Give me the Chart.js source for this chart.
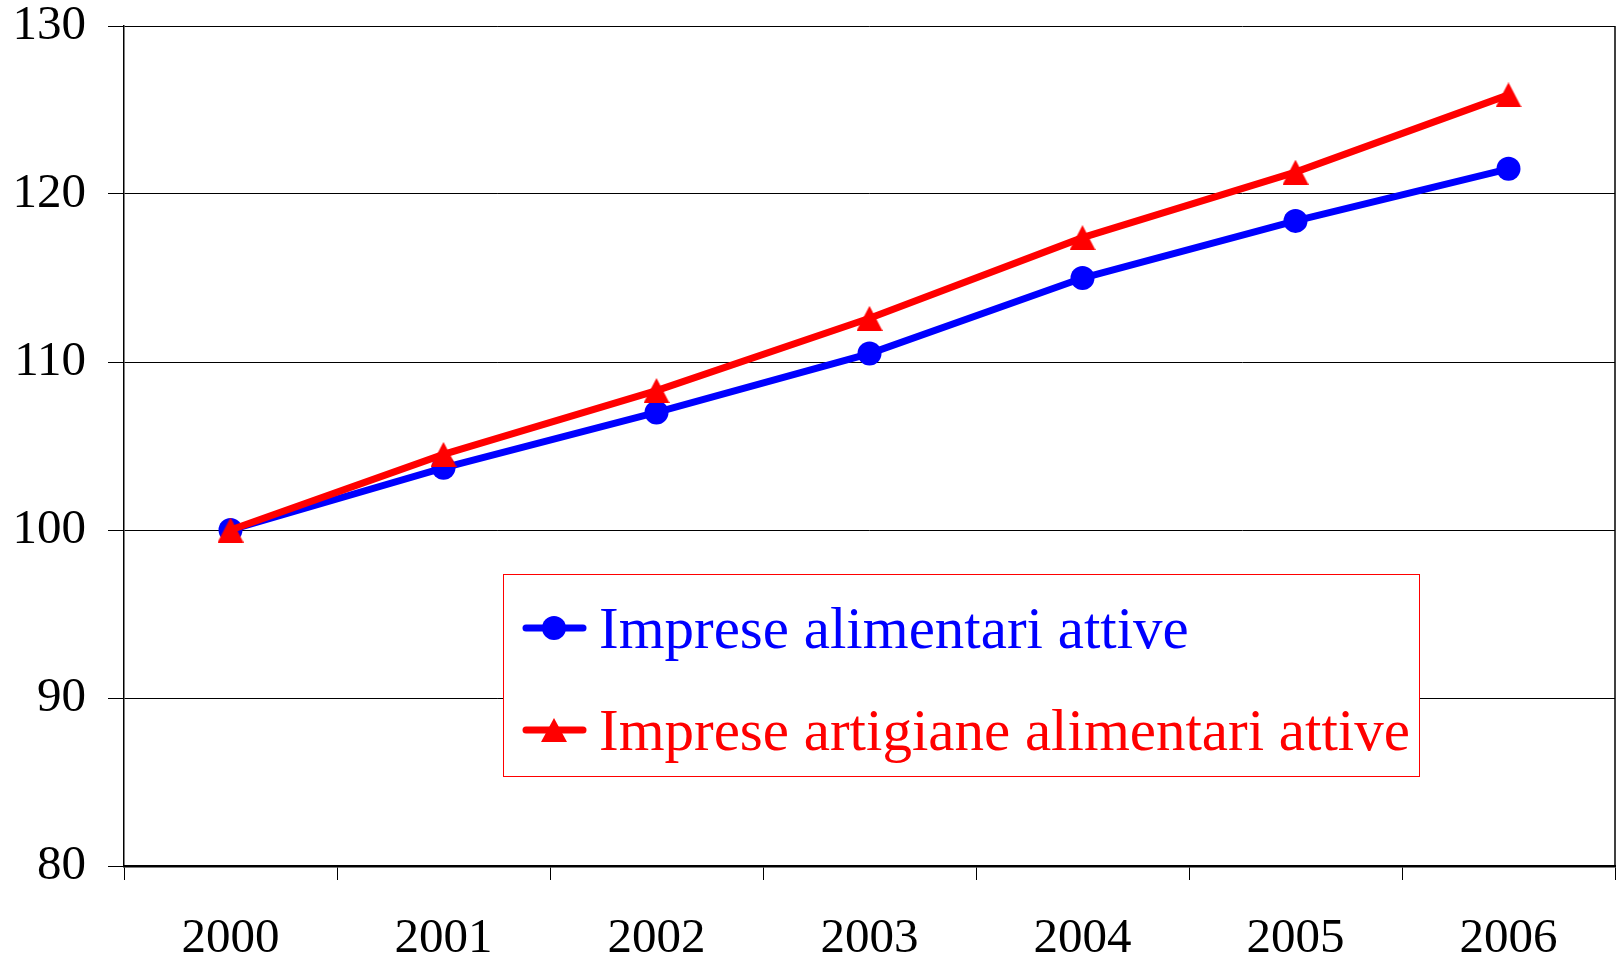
<!DOCTYPE html>
<html>
<head>
<meta charset="utf-8">
<script src="https://cdn.jsdelivr.net/npm/chart.js@4/dist/chart.umd.min.js"></script>
<style>
  html, body { margin: 0; padding: 0; background: #fff; }
  #wrap { position: relative; width: 1621px; height: 959px; }
  #legend {
    position: absolute; left: 503px; top: 574px; width: 917px; height: 203px;
    border: 1px solid #ff0000; background: #fff; box-sizing: border-box;
    font-family: "Liberation Serif", "Times New Roman", serif; font-size: 59px;
  }
  .item { position: absolute; left: 18px; height: 60px; display: flex; align-items: center; white-space: nowrap; }
  .item svg { margin-right: 11px; }
</style>
</head>
<body>
<div id="wrap">
  <canvas id="c" width="1621" height="959"></canvas>
  <div id="legend"></div>
</div>
<script>
const years = ["2000", "2001", "2002", "2003", "2004", "2005", "2006"];
const impreseAlimentari = [100, 103.7, 107.0, 110.5, 115.0, 118.4, 121.5];
const impreseArtigiane = [100, 104.5, 108.3, 112.6, 117.4, 121.3, 125.9];
const seriesLabels = ["Imprese alimentari attive", "Imprese artigiane alimentari attive"];
const yTicks = [80, 90, 100, 110, 120, 130];

const serif = '"Liberation Serif", "Times New Roman", serif';

// Excel-like triangle marker (centred on its bounding box)
function triangleMarker(color, w, h) {
  const cv = document.createElement('canvas');
  cv.width = w; cv.height = h;
  const c = cv.getContext('2d');
  c.fillStyle = color;
  c.beginPath();
  c.moveTo(w / 2, 0);
  c.lineTo(w, h);
  c.lineTo(0, h);
  c.closePath();
  c.fill();
  return cv;
}

const framePlugin = {
  id: 'frame',
  beforeDatasetsDraw(chart) {
    const a = chart.chartArea, ctx = chart.ctx;
    ctx.save();
    ctx.strokeStyle = '#000';
    ctx.lineWidth = 1.5;
    ctx.beginPath();
    ctx.moveTo(a.right, a.top);
    ctx.lineTo(a.right, a.bottom);
    ctx.stroke();
    ctx.restore();
  }
};

function noPad(scale) {
  scale.paddingTop = 0; scale.paddingBottom = 0;
  scale.paddingLeft = 0; scale.paddingRight = 0;
}

const chart = new Chart(document.getElementById('c'), {
  type: 'line',
  data: {
    labels: years,
    datasets: [
      {
        label: seriesLabels[0],
        data: impreseAlimentari,
        order: 1,
        borderColor: '#0000ff',
        backgroundColor: '#0000ff',
        borderWidth: 7,
        pointStyle: 'circle',
        pointRadius: 12,
        pointBorderWidth: 0,
        tension: 0
      },
      {
        label: seriesLabels[1],
        data: impreseArtigiane,
        order: 0,
        borderColor: '#ff0000',
        backgroundColor: '#ff0000',
        borderWidth: 7,
        pointStyle: triangleMarker('#ff0000', 26, 25),
        pointRadius: 12,
        pointBorderWidth: 0,
        tension: 0
      }
    ]
  },
  options: {
    responsive: false,
    animation: false,
    events: [],
    layout: { autoPadding: false, padding: { left: 0, right: 6, top: 26, bottom: 0 } },
    plugins: { legend: { display: false }, tooltip: { enabled: false } },
    scales: {
      x: {
        type: 'category',
        offset: true,
        grid: {
          offset: true,
          drawOnChartArea: false,
          drawTicks: true,
          tickLength: 14,
          color: '#000',
          lineWidth: 1
        },
        border: { display: true, color: '#000', width: 2.5 },
        ticks: {
          color: '#000',
          font: { family: serif, size: 49 },
          padding: 30,
          maxRotation: 0
        },
        afterFit(scale) { scale.height = 93; noPad(scale); }
      },
      y: {
        min: 80,
        max: 130,
        afterBuildTicks(scale) { scale.ticks = yTicks.map(v => ({ value: v })); },
        grid: {
          color: '#000',
          lineWidth: 1,
          drawTicks: true,
          tickLength: 16,
          tickColor: '#000'
        },
        border: { display: true, color: '#000', width: 1.5 },
        ticks: {
          color: '#000',
          font: { family: serif, size: 49 },
          padding: 22
        },
        afterFit(scale) { scale.width = 124; noPad(scale); }
      }
    }
  },
  plugins: [framePlugin]
});

// HTML legend built from dataset info
const legend = document.getElementById('legend');
const tops = [23, 125];
chart.data.datasets.forEach((ds, i) => {
  const div = document.createElement('div');
  div.className = 'item';
  div.style.top = tops[i] + 'px';
  div.style.color = ds.borderColor;
  const marker = ds.pointStyle === 'circle'
    ? `<circle cx="32" cy="30" r="12" fill="${ds.borderColor}"/>`
    : `<polygon points="32,18 45,42 19,42" fill="${ds.borderColor}"/>`;
  div.innerHTML = `<svg width="66" height="60" viewBox="0 0 66 60"><line x1="4" y1="30" x2="61" y2="30" stroke="${ds.borderColor}" stroke-width="7" stroke-linecap="round"/>${marker}</svg><span>${ds.label}</span>`;
  legend.appendChild(div);
});
</script>
</body>
</html>
